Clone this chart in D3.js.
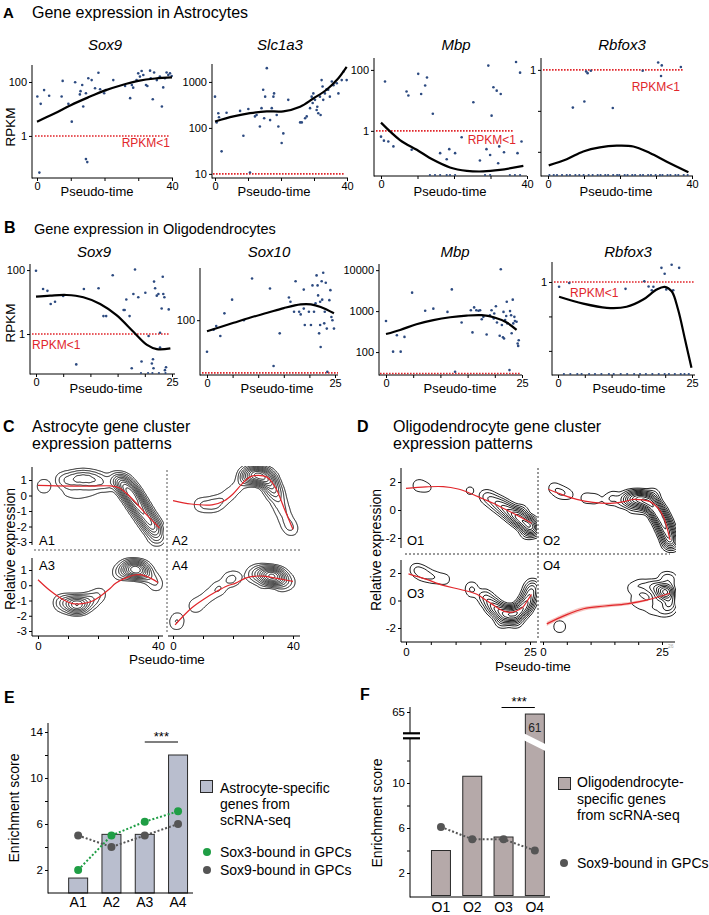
<!DOCTYPE html>
<html><head><meta charset="utf-8">
<script src="https://cdn.jsdelivr.net/npm/d3@7"></script>
<style>body{margin:0;background:#fff}svg{display:block}</style>
</head><body><script>
// ---------------- DATA ----------------
// Panels A/B: scatter points are [pseudo-time, log10(RPKM)]; *Zero arrays: pseudo-time of cells with RPKM = 0 (plotted on the axis)
const astroSox9 = [[0.1,1.46],[1.1,1.19],[2.1,1.70],[3.6,1.49],[0.7,-1.36],[7.3,1.46],[7.6,2.04],[9.3,1.19],[10.3,0.53],[11.3,1.99],[12.7,1.54],[12.9,1.66],[13.4,1.89],[13.7,1.09],[14.5,1.58],[14.9,-0.97],[14.5,-0.86],[15.2,2.14],[16.2,2.07],[17.2,1.77],[18.2,2.34],[18.7,1.73],[19.9,1.58],[20.4,1.70],[22.6,2.07],[26.1,1.85],[27.6,1.40],[28.1,1.89],[28.5,1.79],[29.5,2.07],[30.0,2.32],[30.5,2.20],[31.0,2.41],[31.5,2.26],[32.3,1.89],[32.7,1.85],[33.5,2.42],[33.7,2.14],[34.3,1.36],[34.7,2.35],[35.5,2.07],[36.4,2.20],[37.0,1.09],[37.4,1.80],[37.9,2.14],[38.4,2.35],[38.9,2.26],[39.4,2.32],[39.9,2.22]];
const astroSox9Fit = [[0,0.53],[5,0.82],[10,1.14],[15,1.42],[20,1.68],[25,1.88],[30,2.04],[35,2.13],[40,2.17]];
const astroSlc1a3 = [[0,2.68],[0.5,2.12],[1.0,2.32],[1.2,2.23],[2.0,1.49],[3.5,2.33],[7.6,2.37],[8.6,1.83],[10.1,2.41],[10.6,1.03],[12.1,2.25],[12.6,2.28],[13.6,2.03],[14.1,2.43],[14.6,2.83],[14.9,2.21],[15.2,2.68],[15.7,3.30],[16.7,2.17],[17.2,2.43],[17.7,2.68],[17.9,2.75],[18.7,2.28],[19.2,2.03],[20.2,1.67],[20.7,1.88],[22.2,2.61],[25.8,2.12],[26.3,2.12],[27.3,2.21],[27.8,2.25],[28.8,2.43],[29.3,2.68],[29.6,2.54],[29.8,2.75],[30.3,2.61],[30.8,2.39],[31.0,2.46],[31.3,2.32],[31.8,2.68],[32.0,2.28],[32.3,3.04],[32.6,2.90],[32.8,2.61],[33.3,2.75],[33.8,2.84],[34.3,2.83],[34.8,2.68],[35.4,3.01],[35.9,2.93],[36.9,2.97],[37.4,2.75],[38.4,3.04],[38.9,3.22],[39.9,3.04]];
const astroSlc1a3Fit = [[0,2.14],[5.6,2.25],[10.6,2.32],[15.7,2.36],[20.7,2.36],[25.8,2.46],[29.8,2.64],[33.8,2.83],[36.9,3.04],[39.9,3.33]];
const astroMbp = [[0,-0.19],[1.1,1.62],[0.8,-0.32],[2.0,-0.35],[3.4,-0.51],[7.0,1.29],[7.5,1.16],[8.4,-0.62],[10.2,1.87],[11.0,1.21],[12.1,1.49],[12.6,1.75],[14.2,0.56],[16.2,-0.73],[18.0,-0.93],[18.7,-0.60],[20.3,-0.73],[22.1,-0.21],[25.3,0.94],[27.1,-0.97],[28.9,-0.60],[29.4,2.14],[29.9,-0.79],[30.3,0.50],[30.8,1.43],[31.7,1.32],[32.1,-1.06],[32.4,-0.51],[32.8,1.21],[33.7,-0.70],[37.0,2.26],[37.4,-0.73],[38.1,1.91],[38.5,-0.35]];
const astroMbpZero = [13.4,14.8,16.2,18.0,18.9,20.3,28.5,29.9,35.3,36.7,38.1];
const astroMbpFit = [[0,0.27],[5.2,-0.30],[9.8,-0.62],[14.3,-0.95],[18.9,-1.20],[23.5,-1.31],[28,-1.33],[32.6,-1.28],[39,-1.15]];
const astroRbfox3 = [[6.9,-0.92],[10.1,-0.77],[10.6,-0.04],[11.0,-0.08],[11.9,-0.02],[18.0,-0.93],[26.3,-0.02],[30.6,0.18],[31.6,0.11],[31.4,-0.15],[36.9,0.07]];
const astroRbfox3Zero = [0.4,1.6,2.5,3.9,5.2,6.1,7.6,8.7,9.9,11.3,12.4,13.8,14.6,15.9,16.7,18.1,19.2,19.8,21.3,22.1,23.4,24.2,25.6,26.4,27.8,28.6,29.9,31.1,31.8,33.2,34.0,35.4,36.2,37.7,38.8];
const astroRbfox3Fit = [[0.2,-2.33],[5.2,-2.18],[9.8,-1.99],[14.4,-1.89],[19.1,-1.85],[23.7,-1.87],[28.3,-2.03],[33,-2.24],[39,-2.5]];

const oligoSox9 = [[0,1.98],[1.3,1.41],[2.1,1.35],[2.7,0.94],[3.5,1.01],[5.0,1.19],[7.4,-0.95],[8.8,1.41],[11.5,1.43],[12.4,0.56],[12.9,0.56],[14.1,1.84],[16.1,0.75],[16.3,0.75],[16.6,1.08],[17.2,0.56],[17.6,-1.07],[17.9,1.25],[18.2,2.02],[18.8,1.15],[19.4,-0.86],[20.1,1.29],[20.7,-0.06],[21.3,-0.92],[21.5,-0.79],[21.6,-1.07],[21.7,1.64],[21.9,1.43],[22.2,1.20],[22.5,1.25],[22.8,0.04],[22.8,-0.42],[23.1,0.80],[23.3,1.79],[23.4,1.25],[23.6,1.15],[23.7,-1.13],[23.9,-1.04],[24.4,0.77]];
const oligoSox9Zero = [19.3,20.6,21.4,22.6,23.8];
const oligoSox9Fit = [[0,1.17],[2.6,1.20],[5.6,1.22],[8.7,1.15],[11.8,0.94],[14.8,0.59],[17.9,0.07],[20.4,-0.34],[22.2,-0.47],[24.7,-0.45]];
const oligoSox10 = [[0,1.40],[1.3,1.82],[1.8,1.89],[2.6,1.70],[3.4,2.13],[4.9,2.39],[7.2,2.00],[8.8,2.79],[12.3,2.60],[13.0,1.13],[14.2,1.75],[16.0,2.43],[16.3,2.35],[17.0,2.16],[17.3,2.74],[18.0,2.16],[18.3,2.11],[18.9,2.22],[19.1,1.91],[18.9,2.58],[19.9,2.16],[20.3,1.91],[20.6,2.66],[20.9,2.16],[21.2,2.32],[21.4,2.85],[21.6,2.66],[21.7,2.47],[21.9,1.75],[22.1,1.91],[22.1,2.35],[22.2,1.49],[22.4,2.74],[22.5,2.39],[22.7,2.90],[22.9,1.94],[23.0,2.16],[23.2,2.71],[23.4,1.84],[23.5,1.02],[23.9,2.38],[24.1,2.57],[24.3,2.06],[24.5,2.00],[24.8,1.84]];
const oligoSox10Fit = [[0,1.79],[5.2,1.95],[8.5,2.05],[11.8,2.14],[15,2.23],[18.3,2.30],[20.3,2.30],[22.2,2.25],[24.8,2.13]];
const oligoMbp = [[0,2.76],[1.3,2.01],[2.0,2.41],[2.7,2.01],[3.4,2.37],[4.8,3.45],[7.2,3.01],[8.7,3.06],[11.3,2.98],[12.1,3.53],[12.7,1.52],[13.9,2.72],[15.6,3.02],[15.9,2.48],[16.2,3.09],[16.6,3.02],[17.0,3.01],[17.3,3.02],[17.6,2.80],[17.9,2.86],[18.5,2.43],[19.1,2.90],[19.4,3.02],[19.8,2.82],[19.9,2.94],[20.2,3.12],[20.4,2.72],[20.9,2.40],[21.1,4.02],[21.3,2.66],[21.5,2.36],[21.6,2.98],[21.7,2.33],[21.9,2.78],[22.1,2.88],[22.2,3.23],[22.3,2.70],[22.7,1.56],[22.8,3.00],[23.0,2.90],[23.1,2.46],[23.3,3.28],[23.4,2.70],[23.6,2.86],[23.7,2.76],[24.0,2.74],[24.2,2.21],[24.3,2.15],[24.4,2.29]];
const oligoMbpFit = [[0,2.44],[2.6,2.54],[5.6,2.68],[8.7,2.78],[11.8,2.85],[14.8,2.89],[17.6,2.90],[19.8,2.85],[22.2,2.72],[24,2.54]];
const oligoRbfox3 = [[0.2,-0.14],[2.1,-0.03],[12.6,-0.20],[16.1,0.02],[16.9,-0.13],[17.8,-0.14],[17.5,-0.24],[19.3,0.41],[19.9,0.24],[20.2,-0.22],[21.2,0.50],[21.5,-0.24],[22.6,0.41]];
const oligoRbfox3Zero = [1.1,2.3,3.6,4.4,5.8,6.9,8.1,9.5,10.4,11.7,12.9,14.2,15.3,16.4,17.6,18.8,19.9,20.7,21.8,22.9,23.6,24.4];
const oligoRbfox3Fit = [[0.2,-0.43],[4.7,-0.63],[9.1,-0.75],[12.8,-0.72],[15.9,-0.51],[18.4,-0.22],[19.9,-0.14],[21.2,-0.27],[22.4,-0.8],[23.7,-1.67],[24.9,-2.49]];

// Panels C/D: density samples [pseudo-time, relative expression, weight] and fitted trends [pseudo-time, relative expression]
const clusterA1 = [[2,0.6,0.65],
  [8,1.0,0.6],[10,1.0,0.9],[12,1.05,1.2],[14,1.1,1.5],[16,1.1,1.5],[18,1.05,1.3],[20,1.0,0.9],[22,0.9,0.6],
  [10,0.3,0.4],[13,0.2,0.45],[16,0.3,0.45],[19,0.45,0.4],[23,0.6,0.4],
  [25.5,1.0,0.8],[27,0.95,1.5],[28,0.8,3],[29,0.6,4.2],[30,0.35,5.2],[31,0.1,6],[32,-0.2,6],[33,-0.5,5.5],[34,-0.8,5],[35,-1.1,4.4],[36,-1.4,4],[37,-1.7,3.6],[38,-1.95,3.4],[39,-2.25,2.6],[39.6,-2.7,1.4]];
const clusterA2 = [[9,-0.6,0.5],[11.5,-0.62,0.6],[14,-0.55,0.8],[16.5,-0.3,0.5],[19,0.1,0.45],[21.5,0.55,0.4],
  [24,1.15,1.5],[25.5,1.3,3.2],[27,1.35,4.8],[28.5,1.3,5.6],[30,1.2,5.6],[31.5,1.05,4.4],[32.5,0.75,3.2],[33.5,0.35,2.2],[34.5,0,1.3],[35.5,-0.5,0.8],[36.5,-1.0,0.6],[37.5,-1.5,0.5],[38.5,-1.9,0.5],[39.5,-2.2,0.45]];
const clusterA3 = [[7.5,-1.15,0.8],[9.5,-1.2,1.6],[11.5,-1.25,3],[13,-1.3,3.8],[14.5,-1.25,3],[16.5,-1.1,1.5],[18.5,-0.9,0.7],[20.5,-0.6,0.5],
  [27,0.85,0.6],[29,1.0,1.5],[30.5,1.05,3.4],[32,1.05,5.2],[33.5,1.0,5.2],[35,0.9,2.6],[36.5,0.7,1],[38.5,0.35,0.55],[39.5,0.0,0.4]];
const clusterA4 = [[1.2,-2.5,0.55],[1.5,-2.1,0.3],[7.5,-1.35,0.6],[10,-1.0,0.4],[12.5,-0.6,0.45],[15.3,-0.2,0.7],[18.7,0.35,0.7],[21,0.5,0.45],
  [26.5,0.7,0.7],[28.5,0.75,1.6],[30.5,0.7,3.4],[32,0.62,5.2],[33.5,0.58,6],[35,0.5,3.8],[36.5,0.4,1.5],[38.5,0.2,0.6],[30,0.1,0.35],[36,-0.1,0.35]];
const fitA1 = [[0,0.65],[6,0.62],[12,0.6],[18,0.6],[24,0.62],[27,0.5],[30,0.05],[33,-0.55],[36,-1.2],[38.5,-1.7],[40.5,-2.1]];
const fitA2 = [[0,-0.33],[6,-0.55],[13,-0.6],[17,-0.35],[20,0.1],[23,0.75],[25.7,1.2],[28.5,1.3],[31.2,1.2],[33,0.85],[34.6,0.35],[37,-0.8],[40,-2.2]];
const fitA3 = [[0,0.36],[4,-0.35],[8.4,-0.95],[11.5,-1.2],[14.7,-1.21],[18,-1.05],[20.7,-0.73],[23.5,-0.3],[26,0.14],[29.5,0.5],[32.9,0.69],[36,0.6],[40,0.18]];
const fitA4 = [[0.7,-2.6],[3.5,-2.0],[6.2,-1.49],[10,-0.95],[14.6,-0.4],[18,-0.05],[20.9,0.14],[24,0.45],[26.6,0.58],[30,0.6],[33.2,0.5],[36.5,0.38],[40,0.25]];
const clusterO1 = [[2.6,1.75,0.6],[4.3,1.6,0.35],[12.9,1.38,0.35],
  [16,1.0,0.6],[17,0.8,0.9],[18,0.55,1.2],[19,0.35,1.7],[20,0.1,2.3],[21,-0.15,3],[22,-0.4,4],[23,-0.65,5],[24,-0.9,5.6],[25,-1.1,5],[25.6,-1.35,3.2],[23,-0.2,1.6],[24.5,-1.5,1.6]];
const clusterO2 = [[2.3,1.55,0.5],[3.8,1.25,0.7],[5.5,1.1,0.35],[9,0.85,0.45],[11,0.8,0.45],[13.8,0.75,0.45],[15,0.9,0.55],[16.3,0.55,0.4],
  [17.5,0.75,1.6],[18.5,0.8,3],[19.5,0.8,4.4],[20.5,0.8,5],[21.5,0.7,5.6],[22.5,0.5,6.2],[23.3,0.2,6.2],[24,-0.15,6.2],[24.6,-0.5,6.2],[25.2,-0.9,6.2],[25.7,-1.3,5.6],[26.2,-1.7,5],[26.6,-2.1,3.8],[26.9,-2.4,2.4],
  [19,0.3,1.2],[21,0.3,1.8],[23,1.0,1.2]];
const clusterO3 = [[2,2.25,0.6],[3.2,2.0,0.9],[4.5,1.8,0.6],[6,1.65,0.5],[7.8,1.55,0.45],[13.2,0.95,0.5],[13.4,0.6,0.4],
  [15.8,0.3,1.1],[16.8,-0.1,1.8],[17.8,-0.5,3.2],[19,-0.8,4.4],[20.3,-1.0,5.2],[21.5,-1.0,5.6],[22.7,-0.85,5.6],[23.7,-0.5,5],[24.5,-0.05,4.4],[25.1,0.5,3.2],[25.5,1.0,1.8],[19.5,-1.4,1.8],[22,-1.4,1.8]];
const clusterO4 = [[3.5,-1.9,0.6],
  [26,0.6,6.5],[25,0.7,3],[24,0.9,1.6],[22.5,1.0,1],[20.5,1.1,0.6],[18.8,0.9,0.45],[19.5,0.0,0.45],[21,-0.3,0.45],[23,-0.6,0.55],[25,-0.7,0.7],[26.5,-0.6,0.9],[26.7,1.5,1],[25.5,1.6,0.6],[26.5,-0.1,2.4],[24,0.1,1]];
const fitO1 = [[0,1.55],[4,1.65],[7.5,1.67],[10.5,1.5],[12.9,1.2],[15.5,0.8],[17.6,0.48],[20,0.05],[22.3,-0.36],[25.3,-0.95]];
const fitO2 = [[1.1,1.48],[4,1.1],[7.1,0.76],[10.5,0.55],[14.1,0.48],[17,0.6],[19,0.76],[21,0.72],[22.5,0.6],[24,0.2],[25.3,-0.48],[26,-1.2],[26.7,-2.14]];
const fitO3 = [[0.5,1.94],[4,1.55],[7.5,1.1],[11,0.8],[14.3,0.45],[16,0.05],[17.5,-0.3],[19,-0.65],[20.5,-0.85],[22,-0.8],[23.5,-0.5],[24.5,0],[25.3,0.45]];
const fitO4 = [[0.8,-1.7],[4.5,-1.1],[8.5,-0.6],[13,-0.4],[17.6,-0.24],[22,0.05],[26.7,0.53]];
const bandO4 = [[0.8,-1.85,-1.55],[4.5,-1.25,-0.95],[8.5,-0.74,-0.46],[13,-0.53,-0.27],[17.6,-0.35,-0.13],[22,-0.03,0.13]];
const relTicksC = [1,0,-1,-2,-3];
const relTicksD = [2,0,-2];

// Panels E/F
const eCats = ['A1','A2','A3','A4'];
const eBars = [1.3, 5.1, 5.1, 12];
const eSox3 = [2, 5, 6.2, 7.1];
const eSox9 = [5, 4, 5, 6];
const eTickLabels = [2, 6, 10, 14];
const fCats = ['O1','O2','O3','O4'];
const fBars = [4, 10.6, 5.2, 61];
const fSox9 = [6.1, 5, 5, 4];
const fTickLabels = [2, 6, 10, 65];

// ---------------- DRAWING ----------------
const FONT = '"Liberation Sans", Arial, Helvetica, sans-serif';
const BLUE = '#2c4a80', RED = '#e1262b';
const svg = d3.select('body').append('svg').attr('width', 709).attr('height', 915)
  .style('font-family', FONT);

function txt(x, y, s, o = {}) {
  const t = svg.append('text').attr('x', x).attr('y', y).text(s)
    .attr('font-size', o.size || 12).attr('fill', o.fill || '#000')
    .attr('text-anchor', o.anchor || 'start');
  if (o.weight) t.attr('font-weight', o.weight);
  if (o.italic) t.attr('font-style', 'italic');
  if (o.rotate) t.attr('transform', `rotate(-90,${x},${y})`);
  return t;
}
function styleAxis(g, size) {
  g.attr('font-family', FONT).attr('font-size', size || 11);
  g.selectAll('line').attr('stroke', '#000');
  g.selectAll('text').attr('fill', '#000');
  g.select('.domain').remove();
}
function line(x1, y1, x2, y2, o = {}) {
  const l = svg.append('line').attr('x1', x1).attr('y1', y1).attr('x2', x2).attr('y2', y2)
    .attr('stroke', o.stroke || '#000').attr('stroke-width', o.w || 1);
  if (o.dash) l.attr('stroke-dasharray', o.dash);
  return l;
}

// Panel letters and titles
txt(3, 18, 'A', {size: 15, weight: 'bold'});
txt(32, 18, 'Gene expression in Astrocytes', {size: 16});
txt(4, 233, 'B', {size: 16, weight: 'bold'});
txt(34, 234, 'Gene expression in Oligodendrocytes', {size: 14.5});
txt(3, 432, 'C', {size: 16, weight: 'bold'});
txt(32, 432, 'Astrocyte gene cluster', {size: 16});
txt(32, 449, 'expression patterns', {size: 16});
txt(357, 432, 'D', {size: 16, weight: 'bold'});
txt(393, 432, 'Oligodendrocyte gene cluster', {size: 16});
txt(393, 449, 'expression patterns', {size: 16});
txt(4, 703, 'E', {size: 16, weight: 'bold'});
txt(360, 700, 'F', {size: 16, weight: 'bold'});

// ---- scatter plots (A, B)
function scatterPlot(c, pts, fit, zeros) {
  const x = d3.scaleLinear().domain([0, c.tMax]).range(c.xr);
  const y = d3.scaleLog().domain([Math.pow(10, c.yd[0]), Math.pow(10, c.yd[1])]).range(c.yr);
  const gy = svg.append('g').attr('transform', `translate(${c.ax},0)`)
    .call(d3.axisLeft(y).tickValues(c.yt).tickFormat((d, i) => c.ytl[i]).tickSize(3).tickPadding(2));
  styleAxis(gy);
  line(c.ax, c.yr[1], c.ax, c.yr[0] + 0.5);
  const gx = svg.append('g').attr('transform', `translate(0,${c.yr[0]})`)
    .call(d3.axisBottom(x).tickValues(d3.range(0, c.tMax + 0.01, c.tStep))
      .tickFormat(d => (d === 0 || d === c.tMax) ? d : '').tickSize(3).tickPadding(1));
  styleAxis(gx);
  line(c.ax, c.yr[0], c.xEnd, c.yr[0]);
  line(c.redX[0], y(c.red), c.redX[1], y(c.red), {stroke: RED, w: 1.6, dash: '1.6,1.4'});
  if (c.redLabel) txt(c.redLabel[0], c.redLabel[1], 'RPKM<1', {size: 12, fill: RED, anchor: c.redLabel[2]});
  svg.append('g').selectAll('circle').data(pts).join('circle')
    .attr('cx', d => x(d[0])).attr('cy', d => y(Math.pow(10, d[1]))).attr('r', 1.3).attr('fill', BLUE);
  if (zeros) svg.append('g').selectAll('circle').data(zeros).join('circle')
    .attr('cx', d => x(d)).attr('cy', y.range()[0] - 1).attr('r', 1.1).attr('fill', BLUE);
  svg.append('path').datum(fit)
    .attr('d', d3.line().x(d => x(d[0])).y(d => y(Math.pow(10, d[1]))).curve(d3.curveCatmullRom))
    .attr('fill', 'none').attr('stroke', '#000').attr('stroke-width', 2.2);
  txt(c.title[0], c.title[1], c.name, {size: 15, italic: true, anchor: 'middle'});
  txt(c.pt[0], c.pt[1], 'Pseudo-time', {size: 13, anchor: 'middle'});
}

const A = {tMax: 40, tStep: 10};
scatterPlot({...A, name: 'Sox9', ax: 32, xr: [37, 172], xEnd: 173, yr: [178, 65], yd: [-1.56, 2.63], yt: [100, 1], ytl: ['100', '1'], red: 1, redX: [35, 170], redLabel: [170, 147, 'end'], title: [105, 50], pt: [97, 196]}, astroSox9, astroSox9Fit);
scatterPlot({...A, name: 'Slc1a3', ax: 212, xr: [215, 347], xEnd: 348, yr: [178, 64], yd: [0.91, 3.39], yt: [1000, 100, 10], ytl: ['1000', '100', '10'], red: 10, redX: [213, 345], title: [280, 50], pt: [274, 196]}, astroSlc1a3, astroSlc1a3Fit);
scatterPlot({...A, name: 'Mbp', ax: 374, xr: [381, 527], xEnd: 527, yr: [176, 58], yd: [-1.48, 2.39], yt: [100, 1], ytl: ['100', '1'], red: 1, redX: [376, 513], redLabel: [516, 144, 'end'], title: [456, 50], pt: [450, 196]}, astroMbp, astroMbpFit, astroMbpZero);
scatterPlot({...A, name: 'Rbfox3', ax: 541, xr: [548, 692], xEnd: 693, yr: [176, 58], yd: [-2.59, 0.29], yt: [1, 0.1, 0.01], ytl: ['1', '', ''], red: 1, redX: [543, 683], redLabel: [680, 91, 'end'], title: [622, 50], pt: [616, 196]}, astroRbfox3, astroRbfox3Fit, astroRbfox3Zero);

const B = {tMax: 25, tStep: 5};
scatterPlot({...B, name: 'Sox9', ax: 30, xr: [36, 172], xEnd: 175, yr: [374, 264], yd: [-1.25, 2.19], yt: [100, 1], ytl: ['100', '1'], red: 1, redX: [32, 170], redLabel: [32, 349, 'start'], title: [94, 257], pt: [106, 393]}, oligoSox9, oligoSox9Fit, oligoSox9Zero);
scatterPlot({...B, name: 'Sox10', ax: 200, xr: [207, 335], xEnd: 338, yr: [375, 268], yd: [0.96, 2.99], yt: [100], ytl: ['100'], red: 10, redX: [202, 338], title: [269, 257], pt: [277, 393]}, oligoSox10, oligoSox10Fit);
scatterPlot({...B, name: 'Mbp', ax: 379, xr: [386, 522], xEnd: 522, yr: [375, 264], yd: [1.44, 4.15], yt: [10000, 1000, 100], ytl: ['10000', '1000', '100'], red: 30, redX: [380, 520], title: [455, 257], pt: [460, 393]}, oligoMbp, oligoMbpFit);
scatterPlot({...B, name: 'Rbfox3', ax: 552, xr: [558, 692], xEnd: 695, yr: [375, 262], yd: [-2.70, 0.58], yt: [1, 0.1, 0.01], ytl: ['1', '', ''], red: 1, redX: [554, 695], redLabel: [570, 297, 'start'], title: [628, 257], pt: [629, 393]}, oligoRbfox3, oligoRbfox3Fit, oligoRbfox3Zero);
txt(15, 127, 'RPKM', {size: 13.5, anchor: 'middle', rotate: true});
txt(15, 323, 'RPKM', {size: 13.5, anchor: 'middle', rotate: true});

// ---- contour panels (C, D)
// contour levels, in units of the peak density of one unit-weight sample
const LEVELS = [0.25, 0.7, 1.4, 2.3, 3.4, 4.7, 6.2, 7.9, 9.8, 12, 14.5, 17.5, 21, 25];
let clipN = 0;
function contourBlock(xs, ys, clip, samples, fit, bw, band) {
  const [cx, cy, cw, ch] = clip;
  const id = 'cl' + (clipN++);
  svg.append('clipPath').attr('id', id).append('rect').attr('x', cx).attr('y', cy).attr('width', cw).attr('height', ch);
  const g = svg.append('g').attr('clip-path', `url(#${id})`);
  const est = d3.contourDensity().x(d => xs(d[0]) - cx).y(d => ys(d[1]) - cy).weight(d => d[2])
    .size([cw, ch]).cellSize(1).bandwidth(bw);
  let polys;
  if (typeof est.contours === 'function') {
    const unit = d3.contourDensity().x(d => d[0]).y(d => d[1]).size([cw, ch]).cellSize(1).bandwidth(bw)
      .contours([[cw / 2, ch / 2]]).max;
    const c = est.contours(samples);
    polys = LEVELS.map(f => c(f * unit)).filter(p => p.coordinates.length);
  } else {
    const unit = 1 / (2 * Math.PI * bw * bw);
    polys = est.thresholds(LEVELS.map(f => f * unit))(samples);
  }
  g.append('g').attr('transform', `translate(${cx},${cy})`).selectAll('path').data(polys).join('path')
    .attr('d', d3.geoPath()).attr('fill', 'none').attr('stroke', '#111').attr('stroke-width', 1);
  if (band) g.append('path').datum(band)
    .attr('d', d3.area().x(d => xs(d[0])).y0(d => ys(d[1])).y1(d => ys(d[2])).curve(d3.curveCatmullRom))
    .attr('fill', '#f2a9a2').attr('opacity', 0.7);
  g.append('path').datum(fit)
    .attr('d', d3.line().x(d => xs(d[0])).y(d => ys(d[1])).curve(d3.curveCatmullRom))
    .attr('fill', 'none').attr('stroke', RED).attr('stroke-width', 1.2);
}
function yAxisRel(ys, ticks, ax, top, bottom) {
  const g = svg.append('g').attr('transform', `translate(${ax},0)`)
    .call(d3.axisLeft(ys).tickValues(ticks).tickFormat(d => String(d)).tickSize(3).tickPadding(2));
  styleAxis(g, 11.5);
  line(ax, top, ax, bottom);
}
function xAxisRel(xs, tMax, step, y, x0, x1) {
  const g = svg.append('g').attr('transform', `translate(0,${y})`)
    .call(d3.axisBottom(xs).tickValues(d3.range(0, tMax + 0.01, step))
      .tickFormat(d => (d === 0 || d === tMax) ? d : '').tickSize(3).tickPadding(3));
  styleAxis(g, 11.5);
  line(x0, y, x1, y);
}

// C
const cxL = d3.scaleLinear().domain([0, 40]).range([38, 158]);
const cxR = d3.scaleLinear().domain([0, 40]).range([173, 293]);
const cyT = d3.scaleLinear().domain([-3, 1]).range([542, 480]);
const cyB = d3.scaleLinear().domain([-3, 1]).range([631, 570]);
contourBlock(cxL, cyT, [33, 466, 131, 83], clusterA1, fitA1, 4.5);
contourBlock(cxR, cyT, [168, 466, 133, 83], clusterA2, fitA2, 4.5);
contourBlock(cxL, cyB, [33, 553, 131, 82], clusterA3, fitA3, 4.5);
contourBlock(cxR, cyB, [168, 553, 133, 82], clusterA4, fitA4, 4.5);
yAxisRel(cyT, relTicksC, 32, 467, 545);
yAxisRel(cyB, relTicksC, 32, 558, 636);
xAxisRel(cxL, 40, 10, 636, 32, 163);
xAxisRel(cxR, 40, 10, 636, 168, 300);
line(34, 550, 300, 550, {stroke: '#555', dash: '2,2'});
line(167, 470, 167, 634, {stroke: '#555', dash: '2,2'});
txt(39, 545, 'A1', {size: 13}); txt(172, 545, 'A2', {size: 13});
txt(39, 570, 'A3', {size: 13}); txt(172, 570, 'A4', {size: 13});
txt(167, 664, 'Pseudo-time', {size: 13.5, anchor: 'middle'});
txt(15, 549, 'Relative expression', {size: 14, anchor: 'middle', rotate: true});

// D
const dxL = d3.scaleLinear().domain([0, 25]).range([406, 530]);
const dxR = d3.scaleLinear().domain([0, 25]).range([543, 662]);
const dyT = d3.scaleLinear().domain([-2, 2]).range([538, 482]);
const dyB = d3.scaleLinear().domain([-2, 2]).range([628, 573]);
contourBlock(dxL, dyT, [402, 466, 135, 87], clusterO1, fitO1, 4);
contourBlock(dxR, dyT, [540, 466, 136, 87], clusterO2, fitO2, 4);
contourBlock(dxL, dyB, [402, 557, 135, 84], clusterO3, fitO3, 4);
contourBlock(dxR, dyB, [540, 557, 136, 84], clusterO4, fitO4, 4, bandO4);
yAxisRel(dyT, relTicksD, 401, 468, 548);
yAxisRel(dyB, relTicksD, 401, 560, 642);
xAxisRel(dxL, 25, 5, 642, 401, 537);
xAxisRel(dxR, 25, 5, 642, 540, 675);
txt(668, 648, '26', {size: 5, fill: '#aaa'});
line(405, 554, 670, 554, {stroke: '#333', dash: '2,2'});
line(538, 468, 538, 640, {stroke: '#333', dash: '2,2'});
txt(407, 545, 'O1', {size: 13}); txt(543, 545, 'O2', {size: 13});
txt(543, 570, 'O4', {size: 13}); txt(407, 598, 'O3', {size: 13});
txt(533, 671, 'Pseudo-time', {size: 13.5, anchor: 'middle'});
txt(381, 550, 'Relative expression', {size: 14, anchor: 'middle', rotate: true});

// ---- E
const ex = d3.scaleBand().domain(eCats).range([61.5, 194.7]).paddingInner(0.43).paddingOuter(0.215);
const ey = d3.scaleLinear().domain([0, 14]).range([893, 732]);
svg.append('g').selectAll('rect').data(eBars).join('rect')
  .attr('x', (d, i) => ex(eCats[i])).attr('width', ex.bandwidth())
  .attr('y', d => ey(d)).attr('height', d => ey(0) - ey(d))
  .attr('fill', '#b9bece').attr('stroke', '#2a2a2a').attr('stroke-width', 1);
const eyAx = svg.append('g').attr('transform', 'translate(48,0)')
  .call(d3.axisLeft(ey).tickValues([2, 4, 6, 8, 10, 12, 14]).tickFormat(d => eTickLabels.includes(d) ? d : '').tickSize(3).tickPadding(2));
styleAxis(eyAx, 11.5);
line(48, 723, 48, 893.5); line(48, 893, 193, 893);
const ecx = c => ex(c) + ex.bandwidth() / 2;
const lineGen = (xf, yf) => d3.line().x((d, i) => xf(i)).y(d => yf(d));
svg.append('path').datum(eSox3).attr('d', lineGen(i => ecx(eCats[i]), ey))
  .attr('fill', 'none').attr('stroke', '#1f9e45').attr('stroke-width', 2).attr('stroke-dasharray', '2,2');
svg.append('path').datum(eSox9).attr('d', lineGen(i => ecx(eCats[i]), ey))
  .attr('fill', 'none').attr('stroke', '#555').attr('stroke-width', 2).attr('stroke-dasharray', '2,2');
svg.append('g').selectAll('circle').data(eSox3).join('circle')
  .attr('cx', (d, i) => ecx(eCats[i])).attr('cy', d => ey(d)).attr('r', 4).attr('fill', '#1f9e45');
svg.append('g').selectAll('circle').data(eSox9).join('circle')
  .attr('cx', (d, i) => ecx(eCats[i])).attr('cy', d => ey(d)).attr('r', 4).attr('fill', '#555');
eCats.forEach(c => txt(ecx(c), 907, c, {size: 14, anchor: 'middle'}));
line(ecx('A3'), 742, ecx('A4'), 742, {w: 1.2});
txt((ecx('A3') + ecx('A4')) / 2, 741, '***', {size: 13, anchor: 'middle'});
txt(19, 808, 'Enrichment score', {size: 14, anchor: 'middle', rotate: true});
svg.append('rect').attr('x', 200.5).attr('y', 780.5).attr('width', 12).attr('height', 12).attr('fill', '#b9bece').attr('stroke', '#2a2a2a');
txt(220, 793, 'Astrocyte-specific', {size: 14});
txt(220, 809, 'genes from', {size: 14});
txt(220, 825, 'scRNA-seq', {size: 14});
svg.append('circle').attr('cx', 207).attr('cy', 852).attr('r', 4).attr('fill', '#1f9e45');
txt(220, 857, 'Sox3-bound in GPCs', {size: 14});
svg.append('circle').attr('cx', 207).attr('cy', 870).attr('r', 4).attr('fill', '#555');
txt(220, 875, 'Sox9-bound in GPCs', {size: 14});

// ---- F
const fx = d3.scaleBand().domain(fCats).range([425.3, 550.5]).paddingInner(0.393).paddingOuter(0.197);
const fy = d3.scaleLinear().domain([0, 14, 65]).range([895.5, 738, 712]);
svg.append('g').selectAll('rect').data(fBars).join('rect')
  .attr('x', (d, i) => fx(fCats[i])).attr('width', fx.bandwidth())
  .attr('y', d => fy(d)).attr('height', d => fy(0) - fy(d))
  .attr('fill', '#b5a9a9').attr('stroke', '#2a2a2a').attr('stroke-width', 1);
{
  const bx = fx('O4'), bw = fx.bandwidth();
  svg.append('polygon').attr('points', `${bx - 2},733 ${bx + bw + 2},744.5 ${bx + bw + 2},751.5 ${bx - 2},740`).attr('fill', '#fff');
  txt(bx + bw / 2, 732, String(fBars[3]), {size: 12, anchor: 'middle', fill: '#222'});
}
const fyAx = svg.append('g').attr('transform', 'translate(410,0)')
  .call(d3.axisLeft(fy).tickValues([2, 4, 6, 8, 10, 12, 65]).tickFormat(d => fTickLabels.includes(d) ? d : '').tickSize(3).tickPadding(2));
styleAxis(fyAx, 11.5);
line(410, 707, 410, 897.5); line(410, 897, 550, 897);
svg.append('rect').attr('x', 402).attr('y', 733).attr('width', 19).attr('height', 5).attr('fill', '#fff');
line(403, 733.3, 420, 733.3, {w: 2.2}); line(403, 738.3, 420, 738.3, {w: 2.2});
const fcx = c => fx(c) + fx.bandwidth() / 2;
svg.append('path').datum(fSox9).attr('d', lineGen(i => fcx(fCats[i]), fy))
  .attr('fill', 'none').attr('stroke', '#555').attr('stroke-width', 2).attr('stroke-dasharray', '2,2');
svg.append('g').selectAll('circle').data(fSox9).join('circle')
  .attr('cx', (d, i) => fcx(fCats[i])).attr('cy', d => fy(d)).attr('r', 4).attr('fill', '#555');
fCats.forEach(c => txt(fcx(c), 912, c, {size: 14, anchor: 'middle'}));
line(fcx('O3') - 2, 707.5, fcx('O4'), 707.5, {w: 1.2});
txt((fcx('O3') + fcx('O4')) / 2, 706, '***', {size: 13, anchor: 'middle'});
txt(382, 813, 'Enrichment score', {size: 14, anchor: 'middle', rotate: true});
svg.append('rect').attr('x', 558.5).attr('y', 777.5).attr('width', 12).attr('height', 12).attr('fill', '#b5a9a9').attr('stroke', '#2a2a2a');
txt(577, 787, 'Oligodendrocyte-', {size: 14});
txt(577, 803.5, 'specific genes', {size: 14});
txt(577, 820, 'from scRNA-seq', {size: 14});
svg.append('circle').attr('cx', 564).attr('cy', 863).attr('r', 4).attr('fill', '#555');
txt(577, 868, 'Sox9-bound in GPCs', {size: 14});
</script></body></html>
